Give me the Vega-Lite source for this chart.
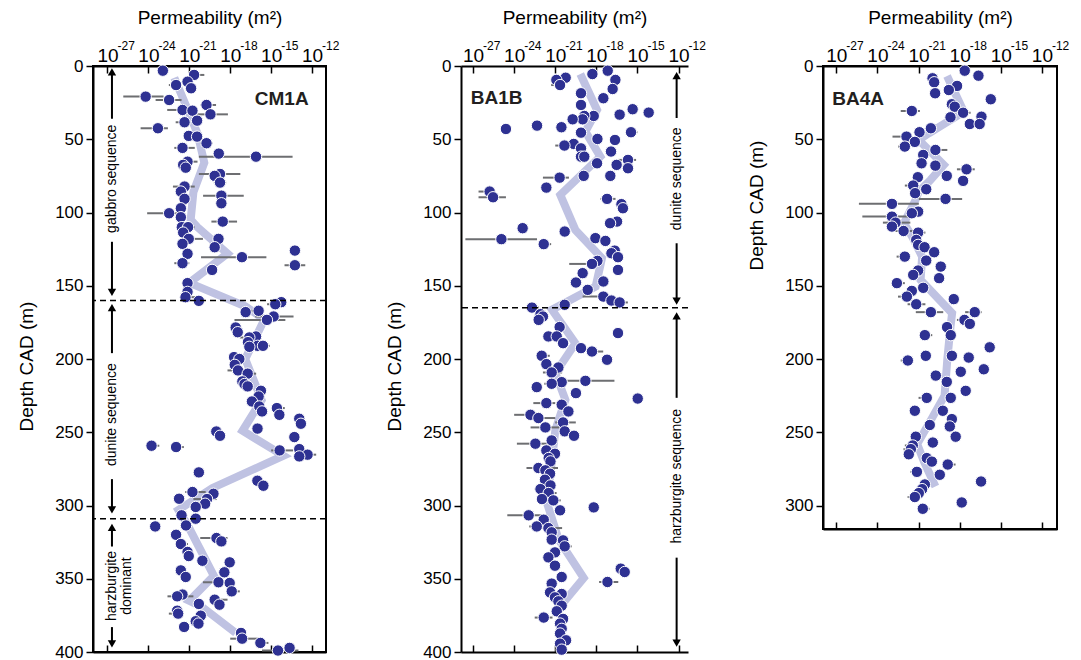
{
"$schema": "https://vega.github.io/schema/vega-lite/v6.json",
"background": "white",
"padding": {"left": 16, "top": 7, "right": 5, "bottom": 5},
"bounds": "flush",
"spacing": 135,
"config": {
  "font": "Liberation Sans",
  "view": {"stroke": null},
  "axis": {"labelFont": "Liberation Sans", "titleFont": "Liberation Sans", "labelColor": "black", "titleColor": "black", "domainColor": "black", "tickColor": "black", "grid": false, "titleFontWeight": "normal", "domainWidth": 2, "tickWidth": 1.5}
},
"datasets": {
"exps": [{"d":0,"e":-27,"t":"-27"},{"d":0,"e":-24,"t":"-24"},{"d":0,"e":-21,"t":"-21"},{"d":0,"e":-18,"t":"-18"},{"d":0,"e":-15,"t":"-15"},{"d":0,"e":-12,"t":"-12"}],
"cm1a": [
{"d":3.2,"k":-22.94,"lo":-22.94,"hi":-22.5},{"d":6.1,"k":-20.65,"lo":-21.0,"hi":-19.9},{"d":10.7,"k":-21.13},{"d":13.0,"k":-21.97,"lo":-22.5,"hi":-21.97},{"d":15.2,"k":-20.87},{"d":20.9,"k":-24.2,"lo":-25.84,"hi":-22.89},{"d":23.2,"k":-22.48,"lo":-23.47,"hi":-21.57},{"d":26.6,"k":-19.74,"lo":-20.18,"hi":-19.04},{"d":30.0,"k":-21.5,"lo":-22.62,"hi":-20.8},{"d":30.5,"k":-20.77},{"d":33.0,"k":-19.45,"lo":-20.43,"hi":-18.17},{"d":37.3,"k":-20.43},{"d":38.4,"k":-21.35,"lo":-22.0,"hi":-21.35},{"d":42.5,"k":-23.3,"lo":-24.57,"hi":-22.57},{"d":47.7,"k":-21.04},{"d":48.2,"k":-20.43},{"d":52.7,"k":-19.74,"lo":-20.18,"hi":-19.3},{"d":55.9,"k":-21.5,"lo":-22.1,"hi":-20.6},{"d":59.8,"k":-18.84},{"d":61.9,"k":-16.11,"lo":-20.3,"hi":-13.43},{"d":65.3,"k":-21.13,"lo":-21.7,"hi":-20.4},{"d":67.5,"k":-21.45},{"d":69.4,"k":-21.26},{"d":73.7,"k":-18.75,"lo":-20.3,"hi":-17.26},{"d":75.0,"k":-19.14},{"d":79.6,"k":-18.75,"lo":-19.2,"hi":-18.3},{"d":82.3,"k":-21.35,"lo":-22.2,"hi":-20.6},{"d":85.7,"k":-21.62},{"d":88.5,"k":-18.65,"lo":-19.99,"hi":-17.01},{"d":90.7,"k":-21.35},{"d":93.7,"k":-18.65},{"d":97.1,"k":-21.62},{"d":100.5,"k":-22.48,"lo":-24.09,"hi":-21.4},{"d":103.2,"k":-21.62},{"d":106.2,"k":-18.55,"lo":-19.38,"hi":-17.5},{"d":110.0,"k":-21.55},{"d":110.0,"k":-21.09,"lo":-21.5,"hi":-20.6},{"d":113.7,"k":-21.45},{"d":118.0,"k":-21.04,"lo":-21.04,"hi":-20.0},{"d":118.0,"k":-18.86},{"d":121.4,"k":-21.5},{"d":123.7,"k":-19.14},{"d":126.0,"k":-13.26},{"d":128.2,"k":-21.13},{"d":130.5,"k":-17.14,"lo":-20.14,"hi":-15.35},{"d":134.6,"k":-21.5,"lo":-22.1,"hi":-21.0},{"d":136.0,"k":-13.26,"lo":-14.02,"hi":-12.5},{"d":139.2,"k":-19.33},{"d":148.2,"k":-21.13},{"d":154.2,"k":-21.13},{"d":157.8,"k":-21.28,"lo":-21.28,"hi":-20.3},{"d":160.3,"k":-20.3},{"d":161.2,"k":-14.26},{"d":162.6,"k":-14.7,"lo":-15.3,"hi":-14.7},{"d":167.1,"k":-15.92,"lo":-16.8,"hi":-15.92},{"d":168.0,"k":-16.87},{"d":171.0,"k":-14.82,"lo":-16.16,"hi":-13.36},{"d":173.3,"k":-15.31,"lo":-17.69,"hi":-13.96},{"d":178.5,"k":-17.6},{"d":181.7,"k":-17.45},{"d":184.6,"k":-16.11},{"d":185.3,"k":-16.6,"lo":-17.3,"hi":-15.7},{"d":188.5,"k":-16.7},{"d":191.0,"k":-15.99,"lo":-15.99,"hi":-15.1},{"d":191.0,"k":-15.6},{"d":191.7,"k":-16.6},{"d":198.7,"k":-17.72},{"d":200.0,"k":-17.33},{"d":204.0,"k":-17.67},{"d":207.8,"k":-17.43,"lo":-18.2,"hi":-17.43},{"d":210.0,"k":-16.72,"lo":-16.72,"hi":-16.1},{"d":215.3,"k":-17.11},{"d":217.1,"k":-16.96},{"d":218.7,"k":-16.72},{"d":221.7,"k":-15.75},{"d":225.6,"k":-15.92},{"d":229.0,"k":-16.41},{"d":232.4,"k":-15.87},{"d":233.5,"k":-14.58,"lo":-14.58,"hi":-14.0},{"d":235.8,"k":-15.67},{"d":238.1,"k":-14.4,"lo":-14.4,"hi":-14.0},{"d":240.8,"k":-12.94},{"d":244.2,"k":-12.82},{"d":247.5,"k":-16.0},{"d":249.5,"k":-19.02},{"d":252.4,"k":-18.75},{"d":253.3,"k":-13.3},{"d":259.2,"k":-23.77,"lo":-23.77,"hi":-23.2},{"d":260.1,"k":-21.97,"lo":-21.97,"hi":-21.4},{"d":261.5,"k":-12.94},{"d":262.4,"k":-14.38,"lo":-15.0,"hi":-13.4},{"d":265.3,"k":-12.33,"lo":-12.33,"hi":-11.7},{"d":266.5,"k":-12.94},{"d":277.4,"k":-20.3},{"d":283.1,"k":-16.01},{"d":286.5,"k":-15.57},{"d":290.8,"k":-20.77,"lo":-21.3,"hi":-19.8},{"d":292.0,"k":-19.23},{"d":295.4,"k":-21.75},{"d":295.6,"k":-19.7,"lo":-20.7,"hi":-19.0},{"d":298.8,"k":-19.84},{"d":301.0,"k":-20.53},{"d":306.7,"k":-21.57},{"d":309.0,"k":-20.53},{"d":313.6,"k":-21.24},{"d":314.3,"k":-23.5},{"d":320.0,"k":-21.97},{"d":322.2,"k":-19.01,"lo":-20.2,"hi":-18.2},{"d":324.5,"k":-18.65},{"d":326.3,"k":-21.62,"lo":-21.62,"hi":-21.1},{"d":331.7,"k":-21.13},{"d":334.5,"k":-21.04},{"d":337.7,"k":-20.04},{"d":338.8,"k":-18.04},{"d":344.3,"k":-21.62},{"d":345.6,"k":-18.43},{"d":348.8,"k":-21.26},{"d":352.4,"k":-18.86,"lo":-20.0,"hi":-18.86},{"d":352.9,"k":-18.04},{"d":358.6,"k":-17.89,"lo":-17.89,"hi":-17.3},{"d":360.8,"k":-21.5},{"d":362.0,"k":-21.89,"lo":-22.6,"hi":-20.7},{"d":364.3,"k":-19.14,"lo":-19.14,"hi":-18.2},{"d":367.2,"k":-20.3},{"d":367.7,"k":-18.79},{"d":371.8,"k":-21.89},{"d":373.8,"k":-21.82,"lo":-22.5,"hi":-21.4},{"d":375.2,"k":-20.16},{"d":379.0,"k":-20.53},{"d":380.6,"k":-20.33},{"d":382.9,"k":-21.38},{"d":387.0,"k":-17.21},{"d":390.9,"k":-17.13,"lo":-18.0,"hi":-15.9},{"d":393.8,"k":-15.79,"lo":-15.79,"hi":-15.2},{"d":397.2,"k":-13.65},{"d":399.0,"k":-14.5,"lo":-15.67,"hi":-13.0}
],
"cm1a_avg": [
{"d":8,"k":-22.1},{"d":28,"k":-21.2},{"d":46,"k":-20.4},{"d":66,"k":-19.9},{"d":86,"k":-20.7},{"d":105,"k":-20.9},{"d":110,"k":-20.4},{"d":128,"k":-18.2},{"d":148,"k":-21.0},{"d":164,"k":-16.9},{"d":173,"k":-15.5},{"d":200,"k":-16.9},{"d":228,"k":-15.7},{"d":249,"k":-17.1},{"d":266,"k":-14.1},{"d":288,"k":-19.3},{"d":303,"k":-21.8},{"d":312,"k":-21.2},{"d":348,"k":-19.2},{"d":365,"k":-21.0},{"d":369,"k":-20.1},{"d":387,"k":-17.6}
],
"ba1b": [
{"d":3.2,"k":-17.17},{"d":5.5,"k":-18.29},{"d":8.0,"k":-20.24},{"d":9.5,"k":-20.92},{"d":9.5,"k":-16.61},{"d":13.0,"k":-20.65,"lo":-21.3,"hi":-20.65},{"d":15.7,"k":-16.81},{"d":18.6,"k":-19.12},{"d":22.0,"k":-17.49},{"d":26.6,"k":-19.12},{"d":29.5,"k":-15.35},{"d":31.8,"k":-14.18},{"d":33.2,"k":-16.3},{"d":34.1,"k":-18.19},{"d":34.1,"k":-18.88},{"d":36.4,"k":-19.0},{"d":36.4,"k":-19.73},{"d":40.7,"k":-22.33},{"d":41.8,"k":-20.55},{"d":43.0,"k":-24.6},{"d":45.2,"k":-15.47,"lo":-15.47,"hi":-15.0},{"d":45.5,"k":-19.12},{"d":49.8,"k":-17.92},{"d":50.5,"k":-16.64},{"d":53.2,"k":-19.65},{"d":54.3,"k":-20.33,"lo":-21.0,"hi":-20.33},{"d":56.2,"k":-19.12},{"d":58.4,"k":-16.93},{"d":61.9,"k":-19.12},{"d":61.9,"k":-18.88},{"d":64.1,"k":-15.69,"lo":-16.4,"hi":-15.1},{"d":66.4,"k":-17.95},{"d":67.5,"k":-16.52},{"d":69.8,"k":-15.69},{"d":75.0,"k":-18.92},{"d":75.0,"k":-16.98},{"d":76.2,"k":-20.68,"lo":-21.9,"hi":-20.0},{"d":83.0,"k":-21.65},{"d":85.7,"k":-25.79,"lo":-26.6,"hi":-25.79},{"d":89.6,"k":-25.54,"lo":-26.6,"hi":-24.6},{"d":90.7,"k":-17.22,"lo":-17.7,"hi":-16.6},{"d":94.3,"k":-16.17},{"d":97.1,"k":-16.06},{"d":106.2,"k":-16.49},{"d":107.3,"k":-17.0},{"d":110.7,"k":-23.38},{"d":113.0,"k":-20.31},{"d":117.5,"k":-18.07},{"d":118.2,"k":-24.93,"lo":-27.56,"hi":-22.33},{"d":119.4,"k":-17.34},{"d":121.6,"k":-21.84,"lo":-21.84,"hi":-21.3},{"d":126.0,"k":-16.66},{"d":127.8,"k":-16.9},{"d":130.5,"k":-16.42},{"d":133.0,"k":-17.92},{"d":135.1,"k":-18.32,"lo":-19.98,"hi":-18.32},{"d":139.2,"k":-16.42},{"d":141.4,"k":-19.0},{"d":147.1,"k":-17.49},{"d":147.8,"k":-19.49},{"d":152.8,"k":-18.63},{"d":157.4,"k":-17.49,"lo":-19.0,"hi":-16.7},{"d":160.1,"k":-16.9},{"d":161.4,"k":-16.3,"lo":-16.3,"hi":-15.7},{"d":163.0,"k":-20.31},{"d":164.9,"k":-22.7,"lo":-22.7,"hi":-22.2},{"d":169.4,"k":-22.08},{"d":171.0,"k":-21.9},{"d":173.3,"k":-22.21},{"d":178.2,"k":-20.68},{"d":182.3,"k":-16.42},{"d":184.6,"k":-21.5},{"d":184.6,"k":-20.89},{"d":189.2,"k":-20.43},{"d":192.6,"k":-19.12},{"d":194.9,"k":-18.32,"lo":-18.32,"hi":-17.5},{"d":197.8,"k":-21.99,"lo":-21.99,"hi":-21.4},{"d":200.5,"k":-17.22},{"d":203.5,"k":-21.65},{"d":205.8,"k":-20.77},{"d":209.2,"k":-21.26,"lo":-21.9,"hi":-20.5},{"d":214.9,"k":-18.8,"lo":-20.14,"hi":-16.68},{"d":215.8,"k":-20.53},{"d":216.9,"k":-21.26,"lo":-21.8,"hi":-21.26},{"d":219.2,"k":-22.35},{"d":223.3,"k":-19.49},{"d":227.0,"k":-14.98},{"d":230.1,"k":-21.65,"lo":-22.6,"hi":-21.0},{"d":231.2,"k":-20.53},{"d":235.8,"k":-20.04},{"d":238.1,"k":-22.81,"lo":-24.0,"hi":-22.81},{"d":240.3,"k":-22.23,"lo":-22.23,"hi":-21.0},{"d":243.3,"k":-20.43,"lo":-21.0,"hi":-19.5},{"d":246.7,"k":-21.72,"lo":-22.8,"hi":-20.7},{"d":249.4,"k":-20.31},{"d":252.4,"k":-19.63},{"d":255.6,"k":-21.26,"lo":-21.26,"hi":-20.8},{"d":257.8,"k":-22.45,"lo":-23.8,"hi":-21.6},{"d":262.4,"k":-21.65},{"d":264.7,"k":-21.02},{"d":267.6,"k":-21.48},{"d":269.9,"k":-21.35},{"d":274.4,"k":-22.23,"lo":-23.1,"hi":-20.8},{"d":276.0,"k":-21.72},{"d":278.3,"k":-21.38},{"d":282.4,"k":-21.75},{"d":286.3,"k":-21.35},{"d":288.8,"k":-22.08,"lo":-22.5,"hi":-22.08},{"d":291.5,"k":-21.48,"lo":-21.48,"hi":-20.9},{"d":295.6,"k":-21.97},{"d":296.5,"k":-21.14,"lo":-21.14,"hi":-20.6},{"d":301.3,"k":-18.19},{"d":303.3,"k":-20.65},{"d":306.7,"k":-22.94,"lo":-24.5,"hi":-21.6},{"d":309.7,"k":-21.84},{"d":314.3,"k":-22.35,"lo":-22.9,"hi":-22.35},{"d":315.4,"k":-21.5,"lo":-22.0,"hi":-20.5},{"d":318.3,"k":-21.26,"lo":-21.6,"hi":-21.26},{"d":323.3,"k":-21.26},{"d":323.8,"k":-20.43},{"d":327.9,"k":-20.31,"lo":-20.31,"hi":-19.8},{"d":332.0,"k":-21.02},{"d":335.4,"k":-21.5,"lo":-21.9,"hi":-21.5},{"d":341.1,"k":-21.02},{"d":343.1,"k":-16.22},{"d":345.4,"k":-15.93},{"d":348.8,"k":-20.53},{"d":352.2,"k":-17.19,"lo":-17.8,"hi":-16.4},{"d":353.3,"k":-21.26},{"d":359.3,"k":-21.38},{"d":360.4,"k":-20.53},{"d":362.7,"k":-21.02},{"d":365.4,"k":-20.77},{"d":368.4,"k":-20.53},{"d":372.2,"k":-20.89},{"d":376.5,"k":-21.84,"lo":-22.5,"hi":-21.2},{"d":377.4,"k":-20.43},{"d":380.6,"k":-20.65},{"d":384.2,"k":-20.53},{"d":387.4,"k":-20.65},{"d":392.0,"k":-20.21},{"d":394.3,"k":-20.65,"lo":-21.0,"hi":-20.65},{"d":398.4,"k":-20.53}
],
"ba1b_avg": [
{"d":5.5,"k":-19.17},{"d":30,"k":-17.95},{"d":44.8,"k":-18.8},{"d":61.9,"k":-17.71},{"d":88,"k":-20.63},{"d":111.9,"k":-19.53},{"d":131.2,"k":-17.59},{"d":150.5,"k":-18.05},{"d":166.4,"k":-21.24},{"d":189.2,"k":-19.53},{"d":209.6,"k":-20.99},{"d":227.8,"k":-20.26},{"d":248.3,"k":-20.99},{"d":298.3,"k":-21.6},{"d":323.3,"k":-20.75},{"d":349.5,"k":-18.92},{"d":368.8,"k":-20.63}
],
"ba4a": [
{"d":3.2,"k":-17.63},{"d":6.6,"k":-16.63},{"d":8.4,"k":-19.98,"lo":-20.3,"hi":-19.98},{"d":11.1,"k":-19.86},{"d":13.6,"k":-18.19},{"d":16.4,"k":-18.79},{"d":18.6,"k":-19.79},{"d":22.7,"k":-15.73},{"d":26.1,"k":-18.57},{"d":27.8,"k":-18.36},{"d":30.7,"k":-21.49,"lo":-22.3,"hi":-20.9},{"d":31.9,"k":-17.75,"lo":-17.75,"hi":-17.2},{"d":34.6,"k":-16.41},{"d":35.0,"k":-18.67},{"d":39.6,"k":-17.26},{"d":39.6,"k":-16.54},{"d":42.5,"k":-20.1},{"d":45.2,"k":-20.93},{"d":48.2,"k":-21.88,"lo":-22.9,"hi":-21.88},{"d":51.8,"k":-21.27},{"d":55.0,"k":-22.0,"lo":-22.5,"hi":-22.0},{"d":57.3,"k":-19.77,"lo":-19.77,"hi":-18.9},{"d":60.7,"k":-20.66},{"d":66.4,"k":-20.78},{"d":68.0,"k":-19.77},{"d":70.5,"k":-17.5,"lo":-18.2,"hi":-16.9},{"d":75.0,"k":-18.94},{"d":75.9,"k":-21.05},{"d":78.4,"k":-17.75},{"d":81.6,"k":-21.39,"lo":-22.0,"hi":-21.39},{"d":84.1,"k":-20.44},{"d":86.8,"k":-21.25},{"d":90.7,"k":-19.03,"lo":-20.98,"hi":-17.82},{"d":94.1,"k":-22.94,"lo":-25.35,"hi":-20.98},{"d":99.4,"k":-21.03},{"d":100.5,"k":-21.49,"lo":-21.9,"hi":-21.49},{"d":102.8,"k":-22.94,"lo":-25.1,"hi":-21.7},{"d":106.9,"k":-22.68,"lo":-23.6,"hi":-21.6},{"d":109.6,"k":-22.94},{"d":112.6,"k":-22.09,"lo":-22.7,"hi":-20.8},{"d":113.7,"k":-21.03,"lo":-21.03,"hi":-20.5},{"d":118.7,"k":-21.17},{"d":122.1,"k":-21.03},{"d":123.7,"k":-20.56},{"d":127.1,"k":-19.86},{"d":130.1,"k":-22.0,"lo":-22.6,"hi":-22.0},{"d":132.8,"k":-20.44},{"d":136.9,"k":-19.38},{"d":139.6,"k":-21.03},{"d":142.6,"k":-21.39},{"d":144.8,"k":-19.5},{"d":148.2,"k":-22.58,"lo":-22.58,"hi":-22.0},{"d":151.4,"k":-20.66},{"d":153.5,"k":-21.49},{"d":157.4,"k":-21.85,"lo":-22.5,"hi":-21.85},{"d":159.1,"k":-18.43},{"d":162.6,"k":-21.17,"lo":-21.8,"hi":-20.5},{"d":168.0,"k":-20.1,"lo":-21.2,"hi":-19.2},{"d":168.0,"k":-16.9,"lo":-17.6,"hi":-16.4},{"d":173.3,"k":-17.65,"lo":-18.2,"hi":-17.65},{"d":176.0,"k":-17.26},{"d":178.2,"k":-18.92},{"d":183.7,"k":-20.54,"lo":-20.54,"hi":-20.0},{"d":183.7,"k":-18.65},{"d":192.0,"k":-15.81},{"d":197.8,"k":-20.47},{"d":197.8,"k":-18.57},{"d":199.0,"k":-17.34},{"d":201.0,"k":-21.78,"lo":-22.3,"hi":-21.78},{"d":207.0,"k":-16.24},{"d":208.7,"k":-17.92},{"d":211.3,"k":-19.74},{"d":215.6,"k":-18.94},{"d":221.7,"k":-17.56},{"d":226.5,"k":-20.4,"lo":-21.0,"hi":-20.4},{"d":226.5,"k":-18.65},{"d":235.3,"k":-21.27},{"d":235.3,"k":-19.23},{"d":241.0,"k":-18.57},{"d":245.0,"k":-20.18},{"d":246.0,"k":-18.72},{"d":253.0,"k":-18.29},{"d":253.0,"k":-21.2},{"d":257.0,"k":-19.96},{"d":259.0,"k":-21.42,"lo":-22.0,"hi":-21.42},{"d":261.5,"k":-21.56,"lo":-22.1,"hi":-21.56},{"d":265.0,"k":-21.71},{"d":267.6,"k":-20.4},{"d":270.0,"k":-20.03},{"d":272.0,"k":-18.87,"lo":-18.87,"hi":-18.3},{"d":277.0,"k":-21.12,"lo":-21.6,"hi":-21.12},{"d":279.0,"k":-19.45},{"d":283.6,"k":-16.44},{"d":285.6,"k":-20.54},{"d":288.8,"k":-20.74},{"d":291.5,"k":-20.98},{"d":294.2,"k":-21.27,"lo":-21.8,"hi":-21.27},{"d":297.9,"k":-17.85},{"d":302.2,"k":-20.69,"lo":-21.0,"hi":-20.2}
],
"ba4a_avg": [
{"d":6.8,"k":-18.92},{"d":31.2,"k":-17.7},{"d":45.9,"k":-20.25},{"d":50.5,"k":-20.98},{"d":67.5,"k":-19.16},{"d":77.8,"k":-20.13},{"d":85.7,"k":-20.98},{"d":91.4,"k":-21.22},{"d":107.3,"k":-22.07},{"d":116.4,"k":-21.47},{"d":130.1,"k":-20.74},{"d":146,"k":-20.85},{"d":168.7,"k":-18.55},{"d":178,"k":-18.67},{"d":200,"k":-18.9},{"d":225,"k":-19.1},{"d":240,"k":-20.0},{"d":258,"k":-21.1},{"d":270,"k":-20.6},{"d":287,"k":-19.77}
]
},
"hconcat": [
{
  "width": 233, "height": 586,
  "view": {"stroke": "black", "strokeWidth": 2},
  "resolve": {"axis": {"x": "independent"}},
  "encoding": {"y": {"field": "d", "type": "quantitative", "scale": {"domain": [0, 400], "reverse": true, "nice": false, "zero": false}, "axis": {"title": "Depth CAD (m)", "values": [0,50,100,150,200,250,300,350,400], "labelFontSize": 17, "titleFontSize": 19, "tickSize": 7, "labelPadding": 3, "titlePadding": 18, "titleY": 300}}},
  "layer": [
    {"data": {"name": "cm1a_avg"}, "mark": {"type": "line", "color": "#bfc2e2", "strokeWidth": 8}, "encoding": {"x": {"field": "k", "type": "quantitative", "scale": {"domain": [-28.06, -10.98], "nice": false, "zero": false}, "axis": {"orient": "top", "title": "Permeability (m²)", "values": [-27,-24,-21,-18,-15,-12], "labelExpr": "'10'", "labelFontSize": 19, "labelBaseline": "alphabetic", "titleFontSize": 19, "tickSize": -7, "labelPadding": 12, "titlePadding": 19, "labelFlush": false, "labelOverlap": false}}, "order": {"field": "d", "type": "quantitative"}}},
    {"data": {"name": "cm1a"}, "transform": [{"filter": "isValid(datum.lo)"}], "mark": {"type": "rule", "color": "#6d6e71", "strokeWidth": 2}, "encoding": {"x": {"field": "lo", "type": "quantitative", "scale": {"domain": [-28.06, -10.98], "nice": false, "zero": false}, "axis": {"orient": "bottom", "title": null, "labels": false, "values": [-27,-24,-21,-18,-15,-12], "tickSize": -7}}, "x2": {"field": "hi"}}},
    {"data": {"name": "cm1a"}, "mark": {"type": "point", "filled": true, "shape": "circle", "size": 130, "color": "#2e3192", "stroke": "white", "strokeWidth": 1, "opacity": 1}, "encoding": {"x": {"field": "k", "type": "quantitative", "scale": {"domain": [-28.06, -10.98], "nice": false, "zero": false}, "axis": null}}},
    {"data": {"values": [{"d": 160}, {"d": 309}]}, "mark": {"type": "rule", "color": "black", "strokeWidth": 1.5, "strokeDash": [6, 4]}, "encoding": {}},
    {"data": {"values": [{"d": 4, "d2": 36}, {"d": 120, "d2": 155}, {"d": 165, "d2": 196}, {"d": 282, "d2": 303}, {"d": 315, "d2": 328}, {"d": 383, "d2": 395}]}, "mark": {"type": "rule", "color": "black", "strokeWidth": 2}, "encoding": {"x": {"datum": -26.67, "type": "quantitative", "scale": {"domain": [-28.06, -10.98], "nice": false, "zero": false}, "axis": null}, "y2": {"field": "d2"}}},
    {"data": {"values": [{"d": 4, "dir": "up"}, {"d": 154.5, "dir": "down"}, {"d": 165, "dir": "up"}, {"d": 303, "dir": "down"}, {"d": 315, "dir": "up"}, {"d": 394.5, "dir": "down"}]}, "mark": {"type": "point", "filled": true, "size": 70, "color": "black", "opacity": 1}, "encoding": {"x": {"datum": -26.67, "type": "quantitative", "scale": {"domain": [-28.06, -10.98], "nice": false, "zero": false}, "axis": null}, "shape": {"field": "dir", "type": "nominal", "scale": {"domain": ["up", "down"], "range": ["triangle-up", "triangle-down"]}, "legend": null}}},
    {"data": {"values": [{"d": 77, "t": "gabbro sequence"}, {"d": 238, "t": "dunite sequence"}, {"d": 355, "t": "harzburgite\ndominant"}]}, "mark": {"type": "text", "angle": 270, "fontSize": 14, "color": "black", "align": "center", "baseline": "middle", "lineBreak": "\n", "lineHeight": 15}, "encoding": {"x": {"datum": -26.67, "type": "quantitative", "scale": {"domain": [-28.06, -10.98], "nice": false, "zero": false}, "axis": null}, "text": {"field": "t"}}},
    {"data": {"values": [{"d": 22.5, "t": "CM1A"}]}, "mark": {"type": "text", "fontSize": 19, "fontWeight": "bold", "color": "#231f20", "align": "left", "baseline": "middle"}, "encoding": {"x": {"datum": -16.2, "type": "quantitative", "scale": {"domain": [-28.06, -10.98], "nice": false, "zero": false}, "axis": null}, "text": {"field": "t"}}},
    {"data": {"name": "exps"}, "mark": {"type": "text", "fontSize": 12, "color": "black", "align": "left", "baseline": "alphabetic", "dx": 10, "dy": -16}, "encoding": {"x": {"field": "e", "type": "quantitative", "scale": {"domain": [-28.06, -10.98], "nice": false, "zero": false}, "axis": null}, "text": {"field": "t", "type": "nominal"}}}
  ]
},
{
  "width": 227, "height": 586,
  "view": {"stroke": null},
  "resolve": {"axis": {"x": "independent"}},
  "encoding": {"y": {"field": "d", "type": "quantitative", "scale": {"domain": [0, 400], "reverse": true, "nice": false, "zero": false}, "axis": {"title": "Depth CAD (m)", "values": [0,50,100,150,200,250,300,350,400], "labelFontSize": 17, "titleFontSize": 19, "tickSize": 7, "labelPadding": 3, "titlePadding": 18, "titleY": 300}}},
  "layer": [
    {"data": {"name": "ba1b_avg"}, "mark": {"type": "line", "color": "#bfc2e2", "strokeWidth": 8}, "encoding": {"x": {"field": "k", "type": "quantitative", "scale": {"domain": [-27.88, -11.31], "nice": false, "zero": false}, "axis": {"orient": "top", "title": "Permeability (m²)", "values": [-27,-24,-21,-18,-15,-12], "labelExpr": "'10'", "labelFontSize": 19, "labelBaseline": "alphabetic", "titleFontSize": 19, "tickSize": -7, "labelPadding": 12, "titlePadding": 19, "labelFlush": false, "labelOverlap": false}}, "order": {"field": "d", "type": "quantitative"}}},
    {"data": {"name": "ba1b"}, "transform": [{"filter": "isValid(datum.lo)"}], "mark": {"type": "rule", "color": "#6d6e71", "strokeWidth": 2}, "encoding": {"x": {"field": "lo", "type": "quantitative", "scale": {"domain": [-27.88, -11.31], "nice": false, "zero": false}, "axis": {"orient": "bottom", "title": null, "labels": false, "values": [-27,-24,-21,-18,-15,-12], "tickSize": -7}}, "x2": {"field": "hi"}}},
    {"data": {"name": "ba1b"}, "mark": {"type": "point", "filled": true, "shape": "circle", "size": 130, "color": "#2e3192", "stroke": "white", "strokeWidth": 1, "opacity": 1}, "encoding": {"x": {"field": "k", "type": "quantitative", "scale": {"domain": [-27.88, -11.31], "nice": false, "zero": false}, "axis": null}}},
    {"data": {"values": [{"d": 165}]}, "mark": {"type": "rule", "color": "black", "strokeWidth": 1.5, "strokeDash": [6, 4]}, "encoding": {}},
    {"data": {"values": [{"d": 6.5, "d2": 35.5}, {"d": 121, "d2": 160}, {"d": 170.5, "d2": 226.5}, {"d": 335.6, "d2": 394}]}, "mark": {"type": "rule", "color": "black", "strokeWidth": 2}, "encoding": {"x": {"datum": -12.14, "type": "quantitative", "scale": {"domain": [-27.88, -11.31], "nice": false, "zero": false}, "axis": null}, "y2": {"field": "d2"}}},
    {"data": {"values": [{"d": 6.5, "dir": "up"}, {"d": 160.5, "dir": "down"}, {"d": 170.5, "dir": "up"}, {"d": 394, "dir": "down"}]}, "mark": {"type": "point", "filled": true, "size": 70, "color": "black", "opacity": 1}, "encoding": {"x": {"datum": -12.14, "type": "quantitative", "scale": {"domain": [-27.88, -11.31], "nice": false, "zero": false}, "axis": null}, "shape": {"field": "dir", "type": "nominal", "scale": {"domain": ["up", "down"], "range": ["triangle-up", "triangle-down"]}, "legend": null}}},
    {"data": {"values": [{"d": 77, "t": "dunite sequence"}, {"d": 280, "t": "harzburgite sequence"}]}, "mark": {"type": "text", "angle": 270, "fontSize": 14, "color": "black", "align": "center", "baseline": "middle"}, "encoding": {"x": {"datum": -12.14, "type": "quantitative", "scale": {"domain": [-27.88, -11.31], "nice": false, "zero": false}, "axis": null}, "text": {"field": "t"}}},
    {"data": {"values": [{"d": 22, "t": "BA1B"}]}, "mark": {"type": "text", "fontSize": 19, "fontWeight": "bold", "color": "#231f20", "align": "left", "baseline": "middle"}, "encoding": {"x": {"datum": -27.17, "type": "quantitative", "scale": {"domain": [-27.88, -11.31], "nice": false, "zero": false}, "axis": null}, "text": {"field": "t"}}},
    {"data": {"name": "exps"}, "mark": {"type": "text", "fontSize": 12, "color": "black", "align": "left", "baseline": "alphabetic", "dx": 10, "dy": -16}, "encoding": {"x": {"field": "e", "type": "quantitative", "scale": {"domain": [-27.88, -11.31], "nice": false, "zero": false}, "axis": null}, "text": {"field": "t", "type": "nominal"}}}
  ]
},
{
  "width": 234, "height": 463,
  "view": {"stroke": "black", "strokeWidth": 2},
  "resolve": {"axis": {"x": "independent"}},
  "encoding": {"y": {"field": "d", "type": "quantitative", "scale": {"domain": [0, 316], "reverse": true, "nice": false, "zero": false}, "axis": {"title": "Depth CAD (m)", "values": [0,50,100,150,200,250,300], "labelFontSize": 17, "titleFontSize": 19, "tickSize": 7, "labelPadding": 3, "titlePadding": 18, "titleY": 139}}},
  "layer": [
    {"data": {"name": "ba4a_avg"}, "mark": {"type": "line", "color": "#bfc2e2", "strokeWidth": 8}, "encoding": {"x": {"field": "k", "type": "quantitative", "scale": {"domain": [-27.97, -10.9], "nice": false, "zero": false}, "axis": {"orient": "top", "title": "Permeability (m²)", "values": [-27,-24,-21,-18,-15,-12], "labelExpr": "'10'", "labelFontSize": 19, "labelBaseline": "alphabetic", "titleFontSize": 19, "tickSize": -7, "labelPadding": 12, "titlePadding": 19, "labelFlush": false, "labelOverlap": false}}, "order": {"field": "d", "type": "quantitative"}}},
    {"data": {"name": "ba4a"}, "transform": [{"filter": "isValid(datum.lo)"}], "mark": {"type": "rule", "color": "#6d6e71", "strokeWidth": 2}, "encoding": {"x": {"field": "lo", "type": "quantitative", "scale": {"domain": [-27.97, -10.9], "nice": false, "zero": false}, "axis": {"orient": "bottom", "title": null, "labels": false, "values": [-27,-24,-21,-18,-15,-12], "tickSize": -7}}, "x2": {"field": "hi"}}},
    {"data": {"name": "ba4a"}, "mark": {"type": "point", "filled": true, "shape": "circle", "size": 130, "color": "#2e3192", "stroke": "white", "strokeWidth": 1, "opacity": 1}, "encoding": {"x": {"field": "k", "type": "quantitative", "scale": {"domain": [-27.97, -10.9], "nice": false, "zero": false}, "axis": null}}},
    {"data": {"values": [{"d": 22.5, "t": "BA4A"}]}, "mark": {"type": "text", "fontSize": 19, "fontWeight": "bold", "color": "#231f20", "align": "left", "baseline": "middle"}, "encoding": {"x": {"datum": -27.3, "type": "quantitative", "scale": {"domain": [-27.97, -10.9], "nice": false, "zero": false}, "axis": null}, "text": {"field": "t"}}},
    {"data": {"name": "exps"}, "mark": {"type": "text", "fontSize": 12, "color": "black", "align": "left", "baseline": "alphabetic", "dx": 10, "dy": -16}, "encoding": {"x": {"field": "e", "type": "quantitative", "scale": {"domain": [-27.97, -10.9], "nice": false, "zero": false}, "axis": null}, "text": {"field": "t", "type": "nominal"}}}
  ]
}
]
}
